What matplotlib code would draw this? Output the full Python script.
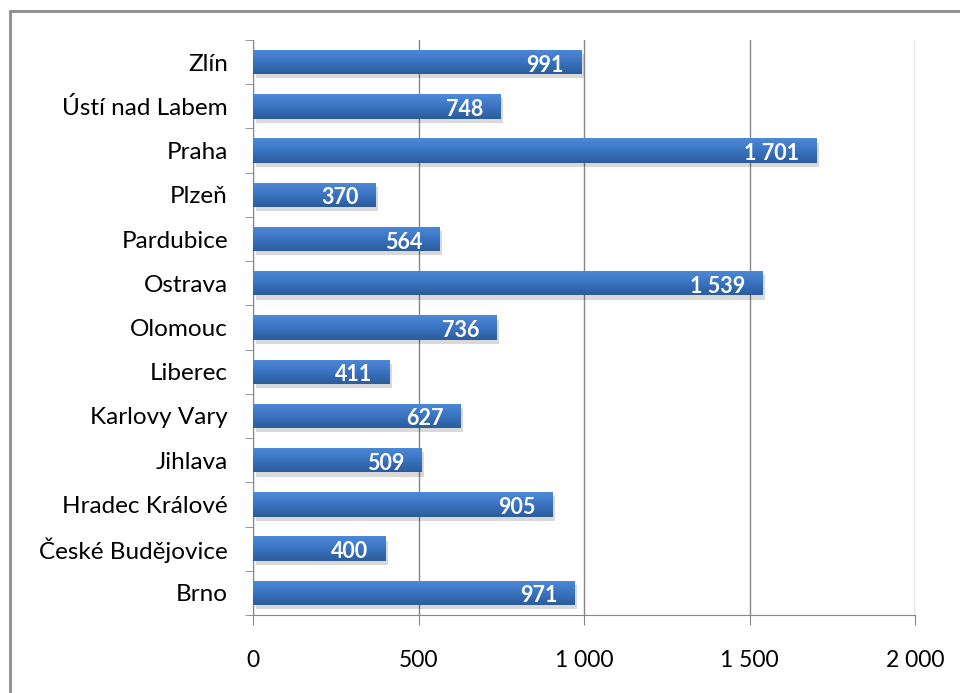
import numpy as np
import matplotlib
matplotlib.use("Agg")
import matplotlib.pyplot as plt
import matplotlib.patheffects as pe
from matplotlib.patches import Rectangle
from matplotlib.colors import LinearSegmentedColormap

# data (bottom to top)
cities = ["Brno", "České Budějovice", "Hradec Králové", "Jihlava", "Karlovy Vary",
          "Liberec", "Olomouc", "Ostrava", "Pardubice", "Plzeň", "Praha",
          "Ústí nad Labem", "Zlín"]
values = [971, 400, 905, 509, 627, 411, 736, 1539, 564, 370, 1701, 748, 991]
x_ticks = [0, 500, 1000, 1500, 2000]


def fmt(v):
    return f"{v:,}".replace(",", " ")


plt.rcParams["font.family"] = ["Lato", "DejaVu Sans"]

fig = plt.figure(figsize=(9.6, 6.93), dpi=100)
ax = fig.add_axes([253 / 960, 1 - 615 / 693, (915 - 253) / 960, (615 - 40) / 693])

# rámeček kolem grafu
fig.patches.append(Rectangle((10 / 960, -0.05), 1.2, 1 - 11 / 693 + 0.05,
                             transform=fig.transFigure, fill=False,
                             edgecolor="#8c8c8c", linewidth=2, zorder=0))

y = np.arange(len(cities))
bars = ax.barh(y, values, height=0.55, color="#3a6fb8", zorder=3,
               path_effects=[pe.SimplePatchShadow(offset=(2, -3), shadow_rgbFace="#000000", alpha=0.15),
                             pe.Normal()])

# gradient výplň
cmap = LinearSegmentedColormap.from_list("bl", ["#2c5c9c", "#3a73c1", "#4e8ad8"])
grad = np.linspace(0, 1, 64).reshape(-1, 1)
for b in bars:
    x0, y0 = b.get_x(), b.get_y()
    im = ax.imshow(grad, cmap=cmap, aspect="auto", origin="lower",
                   extent=[x0, x0 + b.get_width(), y0, y0 + b.get_height()], zorder=4)
    im.set_clip_path(b)

# popisky hodnot
for yi, v in zip(y, values):
    ax.annotate(fmt(v), (v, yi), xytext=(-17, -1), textcoords="offset pixels",
                ha="right", va="center_baseline", color="white", fontweight="bold",
                fontsize=15.5, zorder=6)

ax.set_xlim(0, 2000)
ax.set_ylim(-0.5, len(cities) - 0.5)
ax.set_xticks(x_ticks)
ax.set_xticklabels([fmt(t) for t in x_ticks], fontsize=16.5)
ax.set_yticks(y)
ax.set_yticklabels(cities, fontsize=17.5)
ax.set_yticks(np.arange(-0.5, len(cities), 1), minor=True)
ax.tick_params(axis="y", which="major", length=0, pad=18)
ax.tick_params(axis="y", which="minor", length=6, color="#868686")
ax.tick_params(axis="x", length=7, color="#868686", pad=18)

ax.grid(axis="x", color="#868686", linewidth=1, zorder=0)
for s in ["top", "right"]:
    ax.spines[s].set_visible(False)
for s in ["left", "bottom"]:
    ax.spines[s].set_color("#868686")
ax.set_axisbelow(True)

fig.savefig("out.png", dpi=100)
